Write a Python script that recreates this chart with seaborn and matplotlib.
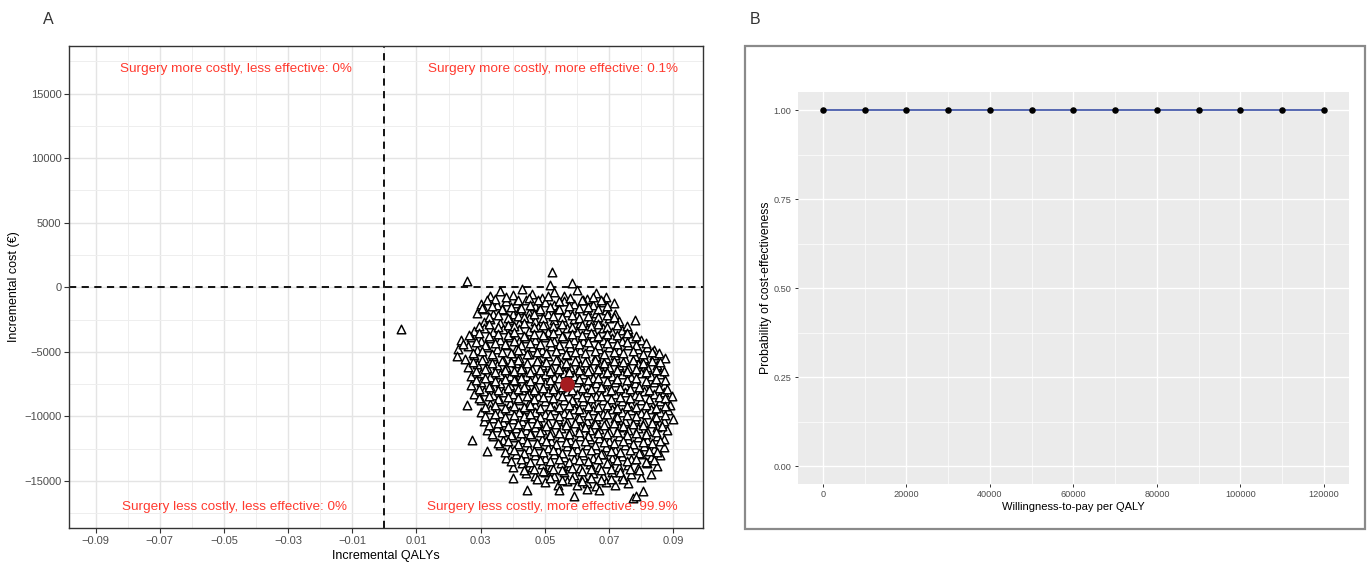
import numpy as np
import pandas as pd
import seaborn as sns
import matplotlib
matplotlib.use("Agg")
import matplotlib.pyplot as plt
from matplotlib.patches import Rectangle
from matplotlib.ticker import FixedLocator

sns.set_theme(style="white")
plt.rcParams['font.family'] = ['Liberation Sans', 'DejaVu Sans']

# ---- Panel A data: simulated incremental QALYs / costs ----
qaly_inc = [
    0.0052, 0.0256, 0.0521, 0.0585, 0.0516,
    0.033, 0.036, 0.040, 0.043, 0.046, 0.049, 0.053, 0.056, 0.060, 0.063, 0.066, 0.069,
    0.030, 0.032, 0.035, 0.038, 0.041, 0.044, 0.047, 0.050, 0.053, 0.056, 0.059, 0.062, 0.065, 0.068, 0.0715,
    0.029, 0.031, 0.034, 0.037, 0.040, 0.042, 0.045, 0.048, 0.051, 0.054, 0.057, 0.060, 0.063, 0.066, 0.069, 0.072,
    0.031, 0.033, 0.036, 0.039, 0.042, 0.045, 0.047, 0.050, 0.053, 0.056, 0.059, 0.061, 0.064, 0.067, 0.070, 0.073, 0.078,
    0.028, 0.031, 0.034, 0.037, 0.039, 0.042, 0.045, 0.048, 0.051, 0.054, 0.057, 0.060, 0.063, 0.065, 0.068, 0.071, 0.074, 0.076,
    0.024, 0.027, 0.030, 0.033, 0.036, 0.039, 0.042, 0.044, 0.047, 0.050, 0.053, 0.056, 0.059, 0.062, 0.065, 0.068, 0.071, 0.074, 0.077, 0.080,
    0.023, 0.026, 0.029, 0.032, 0.035, 0.038, 0.041, 0.043, 0.046, 0.049, 0.052, 0.055, 0.058, 0.061, 0.064, 0.067, 0.070, 0.073, 0.076, 0.079, 0.082, 0.084,
    0.0225, 0.025, 0.028, 0.031, 0.034, 0.037, 0.040, 0.042, 0.045, 0.048, 0.051, 0.054, 0.057, 0.060, 0.063, 0.066, 0.069, 0.072, 0.075, 0.078, 0.081, 0.084, 0.0875,
    0.026, 0.029, 0.032, 0.035, 0.038, 0.041, 0.043, 0.046, 0.049, 0.052, 0.055, 0.058, 0.061, 0.064, 0.067, 0.070, 0.073, 0.076, 0.079, 0.082, 0.085,
    0.027, 0.030, 0.033, 0.036, 0.039, 0.042, 0.044, 0.047, 0.050, 0.053, 0.056, 0.059, 0.062, 0.065, 0.068, 0.071, 0.074, 0.077, 0.080, 0.083, 0.086,
    0.027, 0.030, 0.033, 0.036, 0.039, 0.041, 0.044, 0.047, 0.050, 0.053, 0.056, 0.060, 0.063, 0.066, 0.069, 0.072, 0.075, 0.078, 0.081, 0.084, 0.087,
    0.028, 0.031, 0.034, 0.037, 0.040, 0.043, 0.045, 0.048, 0.051, 0.054, 0.057, 0.060, 0.063, 0.066, 0.069, 0.072, 0.075, 0.078, 0.081, 0.084, 0.087, 0.0895,
    0.0258, 0.030, 0.033, 0.036, 0.039, 0.042, 0.045, 0.047, 0.050, 0.053, 0.056, 0.059, 0.062, 0.065, 0.068, 0.071, 0.074, 0.077, 0.080, 0.083, 0.086, 0.089,
    0.030, 0.033, 0.036, 0.039, 0.042, 0.044, 0.047, 0.050, 0.053, 0.056, 0.059, 0.062, 0.065, 0.068, 0.071, 0.074, 0.077, 0.080, 0.083, 0.086, 0.0885,
    0.031, 0.034, 0.037, 0.040, 0.043, 0.046, 0.048, 0.051, 0.054, 0.057, 0.060, 0.063, 0.066, 0.069, 0.072, 0.075, 0.078, 0.081, 0.084, 0.087, 0.090,
    0.032, 0.035, 0.038, 0.041, 0.044, 0.047, 0.049, 0.052, 0.055, 0.058, 0.061, 0.064, 0.067, 0.070, 0.073, 0.076, 0.079, 0.082, 0.085, 0.088,
    0.0274, 0.034, 0.037, 0.040, 0.043, 0.046, 0.049, 0.052, 0.055, 0.058, 0.061, 0.064, 0.067, 0.070, 0.073, 0.076, 0.079, 0.082, 0.085, 0.087,
    0.0319, 0.036, 0.039, 0.042, 0.045, 0.048, 0.051, 0.054, 0.057, 0.060, 0.063, 0.066, 0.069, 0.072, 0.075, 0.078, 0.081, 0.084, 0.087,
    0.038, 0.041, 0.044, 0.047, 0.050, 0.053, 0.056, 0.059, 0.062, 0.065, 0.068, 0.071, 0.074, 0.077, 0.080, 0.083, 0.086,
    0.040, 0.043, 0.046, 0.049, 0.052, 0.055, 0.058, 0.061, 0.064, 0.067, 0.070, 0.073, 0.076, 0.079, 0.082, 0.085,
    0.040, 0.044, 0.047, 0.050, 0.053, 0.056, 0.059, 0.062, 0.065, 0.068, 0.071, 0.074, 0.077, 0.080, 0.083,
    0.0443, 0.050, 0.054, 0.057, 0.060, 0.063, 0.066, 0.069, 0.072, 0.076, 0.0805,
    0.0545, 0.059, 0.063, 0.067, 0.0775, 0.0785,
]
cost_inc = [
    -3220, 510, 1210, 300, 180,
    -700, -300, -600, -100, -500, -800, -350, -650, -250, -900, -450, -750,
    -1300, -1000, -1400, -1100, -1250, -950, -1450, -1150, -1350, -1050, -1300, -1000, -1400, -1150, -1250,
    -2000, -1700, -2100, -1800, -2050, -1750, -2000, -1850, -2100, -1700, -1950, -2150, -1800, -2000, -1750, -2100,
    -2700, -2450, -2800, -2500, -2750, -2400, -2650, -2850, -2500, -2700, -2450, -2800, -2550, -2750, -2400, -2650, -2550,
    -3400, -3150, -3450, -3200, -3500, -3250, -3400, -3100, -3450, -3300, -3150, -3500, -3250, -3400, -3150, -3450, -3300, -3200,
    -4100, -3850, -4150, -3900, -4100, -3850, -4200, -3950, -4100, -3850, -4150, -3900, -4050, -4200, -3850, -4100, -3950, -4150, -3900, -4050,
    -4800, -4550, -4850, -4600, -4800, -4500, -4750, -4900, -4600, -4850, -4550, -4800, -4650, -4900, -4550, -4750, -4600, -4850, -4500, -4800, -4650, -4900,
    -5300, -5550, -5250, -5500, -5300, -5600, -5350, -5500, -5200, -5550, -5350, -5600, -5250, -5450, -5600, -5300, -5500, -5250, -5550, -5350, -5500, -5250, -5450,
    -6200, -5950, -6250, -6000, -6200, -5900, -6150, -6300, -6000, -6250, -5950, -6200, -6050, -6300, -5950, -6150, -6000, -6250, -5950, -6200, -6050,
    -6900, -6650, -6950, -6700, -6900, -6600, -6850, -7000, -6700, -6950, -6650, -6900, -6750, -7000, -6650, -6850, -6700, -6950, -6650, -6900, -6750,
    -7600, -7350, -7650, -7400, -7600, -7300, -7550, -7700, -7400, -7650, -7450, -7350, -7600, -7450, -7700, -7350, -7550, -7400, -7650, -7350, -7600,
    -8300, -8050, -8350, -8100, -8300, -8000, -8250, -8400, -8100, -8350, -8050, -8300, -8150, -8400, -8050, -8250, -8100, -8350, -8050, -8300, -8150, -8400,
    -9120, -8750, -9050, -8800, -9000, -8700, -8950, -9100, -8800, -9050, -8750, -9000, -8850, -9100, -8750, -8950, -8800, -9050, -8750, -9000, -8850, -9100,
    -9700, -9450, -9750, -9500, -9700, -9400, -9650, -9800, -9500, -9750, -9450, -9700, -9550, -9800, -9450, -9650, -9500, -9750, -9450, -9700, -9550,
    -10400, -10150, -10450, -10200, -10400, -10100, -10350, -10500, -10200, -10450, -10150, -10400, -10250, -10500, -10150, -10350, -10200, -10450, -10150, -10400, -10250,
    -11100, -10850, -11150, -10900, -11100, -10800, -11050, -11200, -10900, -11150, -10850, -11100, -10950, -11200, -10850, -11050, -10900, -11150, -10850, -11100,
    -11830, -11550, -11850, -11600, -11800, -11500, -11750, -11900, -11600, -11850, -11550, -11800, -11650, -11900, -11550, -11750, -11600, -11850, -11550, -11800,
    -12690, -12250, -12550, -12300, -12500, -12200, -12450, -12600, -12300, -12550, -12250, -12500, -12350, -12600, -12250, -12450, -12300, -12550, -12350,
    -13200, -12950, -13250, -13000, -13200, -12900, -13150, -13300, -13000, -13250, -12950, -13200, -13050, -13300, -12950, -13150, -13000,
    -13900, -13650, -13950, -13700, -13900, -13600, -13850, -14000, -13700, -13950, -13650, -13900, -13750, -14000, -13650, -13850,
    -14750, -14400, -14650, -14350, -14600, -14300, -14550, -14700, -14400, -14650, -14350, -14600, -14450, -14700, -14500,
    -15700, -15100, -15300, -15050, -15350, -15150, -15400, -15100, -15300, -15200, -15800,
    -15700, -16150, -15650, -15750, -16350, -16200,
]
# second, interleaved set of simulations filling the dense core of the cloud
qaly_inc_core = [
    0.0345, 0.038, 0.0415, 0.045, 0.048, 0.051, 0.0545, 0.058, 0.0615, 0.065, 0.0675,
    0.0305, 0.0335, 0.0365, 0.0395, 0.0425, 0.0455, 0.0485, 0.0515, 0.0545, 0.0575, 0.0605, 0.0635, 0.0665, 0.0695,
    0.0325, 0.0355, 0.0385, 0.0415, 0.0435, 0.0465, 0.0495, 0.0525, 0.0555, 0.0585, 0.0605, 0.0635, 0.0665, 0.0695, 0.0715,
    0.0295, 0.0325, 0.0355, 0.0385, 0.0405, 0.0435, 0.0465, 0.0495, 0.0525, 0.0555, 0.0585, 0.0615, 0.0645, 0.0665, 0.0695, 0.0725, 0.0755,
    0.0265, 0.0295, 0.0325, 0.0355, 0.0385, 0.0405, 0.0435, 0.0465, 0.0495, 0.0525, 0.0555, 0.0585, 0.0615, 0.0645, 0.0665, 0.0695, 0.0725, 0.0755, 0.0785,
    0.0245, 0.0285, 0.0315, 0.0345, 0.0375, 0.0405, 0.0425, 0.0455, 0.0485, 0.0515, 0.0545, 0.0575, 0.0605, 0.0635, 0.0665, 0.0695, 0.0725, 0.0755, 0.0785, 0.0815,
    0.0275, 0.0305, 0.0335, 0.0365, 0.0395, 0.0415, 0.0445, 0.0475, 0.0505, 0.0535, 0.0565, 0.0595, 0.0625, 0.0655, 0.0685, 0.0715, 0.0745, 0.0775, 0.0805, 0.0835, 0.0855,
    0.0275, 0.0305, 0.0335, 0.0365, 0.0395, 0.0415, 0.0445, 0.0475, 0.0505, 0.0535, 0.0565, 0.0595, 0.0625, 0.0655, 0.0685, 0.0715, 0.0745, 0.0775, 0.0805, 0.0835, 0.0860,
    0.0285, 0.0315, 0.0345, 0.0375, 0.0405, 0.0425, 0.0455, 0.0485, 0.0515, 0.0545, 0.0575, 0.0605, 0.0635, 0.0665, 0.0695, 0.0725, 0.0755, 0.0785, 0.0815, 0.0845, 0.0870,
    0.0285, 0.0315, 0.0345, 0.0375, 0.0405, 0.0425, 0.0455, 0.0485, 0.0515, 0.0545, 0.0575, 0.0605, 0.0635, 0.0665, 0.0695, 0.0725, 0.0755, 0.0785, 0.0815, 0.0845, 0.0875,
    0.0295, 0.0325, 0.0355, 0.0385, 0.0415, 0.0435, 0.0465, 0.0495, 0.0525, 0.0555, 0.0585, 0.0615, 0.0645, 0.0675, 0.0705, 0.0735, 0.0765, 0.0795, 0.0825, 0.0855, 0.0880,
    0.0295, 0.0325, 0.0355, 0.0385, 0.0415, 0.0445, 0.0465, 0.0495, 0.0525, 0.0555, 0.0585, 0.0615, 0.0645, 0.0675, 0.0705, 0.0735, 0.0765, 0.0795, 0.0825, 0.0855, 0.0875,
    0.0315, 0.0345, 0.0375, 0.0405, 0.0435, 0.0455, 0.0485, 0.0515, 0.0545, 0.0575, 0.0605, 0.0635, 0.0665, 0.0695, 0.0725, 0.0755, 0.0785, 0.0815, 0.0845, 0.0875,
    0.0315, 0.0345, 0.0375, 0.0405, 0.0435, 0.0455, 0.0485, 0.0515, 0.0545, 0.0575, 0.0605, 0.0635, 0.0665, 0.0695, 0.0725, 0.0755, 0.0785, 0.0815, 0.0845, 0.0875,
    0.0325, 0.0355, 0.0385, 0.0415, 0.0445, 0.0475, 0.0505, 0.0535, 0.0565, 0.0595, 0.0625, 0.0655, 0.0685, 0.0715, 0.0745, 0.0775, 0.0805, 0.0835, 0.0865,
    0.0335, 0.0365, 0.0395, 0.0425, 0.0455, 0.0485, 0.0515, 0.0545, 0.0575, 0.0605, 0.0635, 0.0665, 0.0695, 0.0725, 0.0755, 0.0785, 0.0815, 0.0845,
    0.0355, 0.0385, 0.0415, 0.0445, 0.0475, 0.0505, 0.0535, 0.0565, 0.0595, 0.0625, 0.0655, 0.0685, 0.0715, 0.0745, 0.0775, 0.0805, 0.0835, 0.0860,
    0.0375, 0.0405, 0.0435, 0.0465, 0.0495, 0.0525, 0.0555, 0.0585, 0.0615, 0.0645, 0.0675, 0.0705, 0.0735, 0.0765, 0.0795, 0.0825, 0.0850,
    0.0395, 0.0425, 0.0455, 0.0485, 0.0515, 0.0545, 0.0575, 0.0605, 0.0635, 0.0665, 0.0695, 0.0725, 0.0755, 0.0785, 0.0815, 0.0840,
    0.0435, 0.0465, 0.0495, 0.0525, 0.0555, 0.0585, 0.0615, 0.0645, 0.0675, 0.0705, 0.0735, 0.0765, 0.0795,
    0.0475, 0.0515, 0.0555, 0.0585, 0.0615, 0.0645, 0.0675, 0.0705, 0.0745,
]
cost_inc_core = [
    -900, -750, -1000, -800, -950, -700, -1050, -850, -950, -750, -1000,
    -1600, -1450, -1650, -1500, -1600, -1400, -1700, -1500, -1650, -1450, -1600, -1500, -1650, -1450,
    -2300, -2150, -2350, -2200, -2300, -2100, -2350, -2200, -2300, -2150, -2400, -2200, -2300, -2150, -2300,
    -3000, -2850, -3050, -2900, -3000, -2800, -3050, -2900, -3000, -2850, -3100, -2900, -3000, -2850, -3050, -2900, -3000,
    -3700, -3550, -3750, -3600, -3700, -3500, -3750, -3600, -3700, -3550, -3800, -3600, -3700, -3550, -3750, -3600, -3700, -3550, -3750,
    -4400, -4250, -4450, -4300, -4400, -4200, -4450, -4300, -4400, -4250, -4500, -4300, -4400, -4250, -4450, -4300, -4400, -4250, -4450, -4300,
    -5100, -4950, -5150, -5000, -5100, -4900, -5150, -5000, -5100, -4950, -5200, -5000, -5100, -4950, -5150, -5000, -5100, -4950, -5150, -5000, -5100,
    -5800, -5650, -5850, -5700, -5800, -5600, -5850, -5700, -5800, -5650, -5900, -5700, -5800, -5650, -5850, -5700, -5800, -5650, -5850, -5700, -5800,
    -6500, -6350, -6550, -6400, -6500, -6300, -6550, -6400, -6500, -6350, -6600, -6400, -6500, -6350, -6550, -6400, -6500, -6350, -6550, -6400, -6500,
    -7200, -7050, -7250, -7100, -7200, -7000, -7250, -7100, -7200, -7050, -7300, -7100, -7200, -7050, -7250, -7100, -7200, -7050, -7250, -7100, -7200,
    -7900, -7750, -7950, -7800, -7900, -7700, -7950, -7800, -7900, -7750, -8000, -7800, -7900, -7750, -7950, -7800, -7900, -7750, -7950, -7800, -7900,
    -8600, -8450, -8650, -8500, -8600, -8400, -8650, -8500, -8600, -8450, -8700, -8500, -8600, -8450, -8650, -8500, -8600, -8450, -8650, -8500, -8600,
    -9300, -9150, -9350, -9200, -9300, -9100, -9350, -9200, -9300, -9150, -9400, -9200, -9300, -9150, -9350, -9200, -9300, -9150, -9350, -9200,
    -10000, -9850, -10050, -9900, -10000, -9800, -10050, -9900, -10000, -9850, -10100, -9900, -10000, -9850, -10050, -9900, -10000, -9850, -10050, -9900,
    -10700, -10550, -10750, -10600, -10700, -10500, -10750, -10600, -10700, -10550, -10800, -10600, -10700, -10550, -10750, -10600, -10700, -10550, -10750,
    -11400, -11250, -11450, -11300, -11400, -11200, -11450, -11300, -11400, -11250, -11500, -11300, -11400, -11250, -11450, -11300, -11400, -11250,
    -12100, -11950, -12150, -12000, -12100, -11900, -12150, -12000, -12100, -11950, -12200, -12000, -12100, -11950, -12150, -12000, -12100, -11950,
    -12800, -12650, -12850, -12700, -12800, -12600, -12850, -12700, -12800, -12650, -12900, -12700, -12800, -12650, -12850, -12700, -12800,
    -13500, -13350, -13550, -13400, -13500, -13300, -13550, -13400, -13500, -13350, -13600, -13400, -13500, -13350, -13550, -13400,
    -14200, -14050, -14250, -14100, -14200, -14000, -14250, -14100, -14200, -14050, -14300, -14100, -14200,
    -14900, -14800, -14950, -14850, -15000, -14800, -14950, -14850, -14900,
]
mean_qaly = [0.0568]
mean_cost = [-7500]

quadrant_labels = [
    "Surgery more costly, less effective: 0%",
    "Surgery more costly, more effective: 0.1%",
    "Surgery less costly, less effective: 0%",
    "Surgery less costly, more effective: 99.9%",
]
label_x = [-0.0462, 0.0525, -0.0468, 0.0522]
label_y = [16900, 16900, -17000, -17000]

x_ticks_a = [-0.09, -0.07, -0.05, -0.03, -0.01, 0.01, 0.03, 0.05, 0.07, 0.09]
x_tick_labels_a = ["\u22120.09", "\u22120.07", "\u22120.05", "\u22120.03", "\u22120.01",
                   "0.01", "0.03", "0.05", "0.07", "0.09"]
y_ticks_a = [-15000, -10000, -5000, 0, 5000, 10000, 15000]
y_tick_labels_a = ["\u221215000", "\u221210000", "\u22125000", "0", "5000", "10000", "15000"]

# ---- Panel B data: acceptability curve ----
wtp = [0, 10000, 20000, 30000, 40000, 50000, 60000, 70000, 80000, 90000, 100000, 110000, 120000]
prob_ce = [1.0, 1.0, 1.0, 1.0, 1.0, 1.0, 1.0, 1.0, 1.0, 1.0, 1.0, 1.0, 1.0]
x_ticks_b = [0, 20000, 40000, 60000, 80000, 100000, 120000]
y_ticks_b = [0.0, 0.25, 0.5, 0.75, 1.0]

df_a = pd.DataFrame({"qaly": qaly_inc + qaly_inc_core, "cost": cost_inc + cost_inc_core})
df_m = pd.DataFrame({"qaly": mean_qaly, "cost": mean_cost})
df_b = pd.DataFrame({"wtp": wtp, "prob": prob_ce})

W, H = 1370, 563
fig = plt.figure(figsize=(W / 100, H / 100), dpi=100)
fig.patch.set_facecolor("white")

# ---------------- Panel A ----------------
axA = fig.add_axes([69 / W, 1 - 528 / H, (703 - 69) / W, (528 - 46) / H])
axA.set_facecolor("white")
axA.set_xlim(-0.0983, 0.0993)
axA.set_ylim(-18660, 18700)
axA.xaxis.set_major_locator(FixedLocator(x_ticks_a))
axA.xaxis.set_minor_locator(FixedLocator([-0.1, -0.08, -0.06, -0.04, -0.02, 0.0, 0.02, 0.04, 0.06, 0.08]))
axA.yaxis.set_major_locator(FixedLocator(y_ticks_a))
axA.yaxis.set_minor_locator(FixedLocator([-17500, -12500, -7500, -2500, 2500, 7500, 12500, 17500]))
axA.set_xticklabels(x_tick_labels_a)
axA.set_yticklabels(y_tick_labels_a)
axA.grid(which="major", color="#e4e4e4", lw=1.0, zorder=0)
axA.grid(which="minor", color="#eeeeee", lw=0.7, zorder=0)
axA.set_axisbelow(True)
for s in axA.spines.values():
    s.set_color("#333333")
    s.set_linewidth(1.0)
axA.tick_params(axis="both", which="major", labelsize=8, labelcolor="#4d4d4d",
                color="#333333", length=3.5, width=0.8, pad=2, bottom=True, left=True)
axA.tick_params(axis="both", which="minor", length=0)

axA.axhline(0, color="black", lw=1.3, ls=(0, (4, 3)), zorder=2)
axA.axvline(0, color="black", lw=1.3, ls=(0, (4, 3)), zorder=2)

sns.scatterplot(data=df_a, x="qaly", y="cost", ax=axA, marker="^", s=38,
                facecolor="white", edgecolor="black", linewidth=1.05, zorder=3, legend=False)
sns.scatterplot(data=df_m, x="qaly", y="cost", ax=axA, marker="o", s=110,
                color="#a51b1f", edgecolor="#a51b1f", linewidth=0, zorder=4, legend=False)

for t, x, y in zip(quadrant_labels, label_x, label_y):
    axA.text(x, y, t, color="#ff3a2f", fontsize=9.7, ha="center", va="center", zorder=5)

axA.set_xlabel("Incremental QALYs", fontsize=9, color="black", labelpad=3)
axA.set_ylabel("Incremental cost (\u20ac)", fontsize=9, color="black", labelpad=3)

fig.text(48 / W, 1 - 19 / H, "A", fontsize=11.5, color="#333333", ha="center", va="center")
fig.text(755 / W, 1 - 19 / H, "B", fontsize=11.5, color="#333333", ha="center", va="center")

# ---------------- Panel B ----------------
fig.patches.append(Rectangle((745 / W, 1 - 529 / H), (1365 - 745) / W, (529 - 46) / H,
                             transform=fig.transFigure, fill=False, edgecolor="#8a8a8a",
                             lw=1.6, zorder=0))

axB = fig.add_axes([797.7 / W, 1 - 484 / H, (1349 - 797.7) / W, (484 - 92.3) / H])
axB.set_facecolor("#ebebeb")
axB.set_xlim(-6000, 126000)
axB.set_ylim(-0.05, 1.05)
axB.xaxis.set_major_locator(FixedLocator(x_ticks_b))
axB.xaxis.set_minor_locator(FixedLocator([10000, 30000, 50000, 70000, 90000, 110000]))
axB.yaxis.set_major_locator(FixedLocator(y_ticks_b))
axB.yaxis.set_minor_locator(FixedLocator([0.125, 0.375, 0.625, 0.875]))
axB.grid(which="major", color="white", lw=1.0)
axB.grid(which="minor", color="white", lw=0.5)
axB.set_axisbelow(True)
for s in axB.spines.values():
    s.set_visible(False)
axB.tick_params(axis="both", which="major", labelsize=6.6, labelcolor="#4d4d4d",
                color="#333333", length=2.5, width=0.7, pad=2, bottom=True, left=True)
axB.tick_params(axis="both", which="minor", length=0)
axB.set_yticklabels(["0.00", "0.25", "0.50", "0.75", "1.00"])
axB.set_xticklabels([str(v) for v in x_ticks_b])

sns.lineplot(data=df_b, x="wtp", y="prob", ax=axB, color="#3a4fa5", lw=1.2, zorder=3)
sns.scatterplot(data=df_b, x="wtp", y="prob", ax=axB, color="black", s=22,
                edgecolor="black", linewidth=0, zorder=4, legend=False)
axB.set_xlabel("Willingness-to-pay per QALY", fontsize=8, color="black", labelpad=2)
axB.set_ylabel("Probability of cost-effectiveness", fontsize=8.8, color="black", labelpad=1)

fig.savefig("out.png", dpi=100)
